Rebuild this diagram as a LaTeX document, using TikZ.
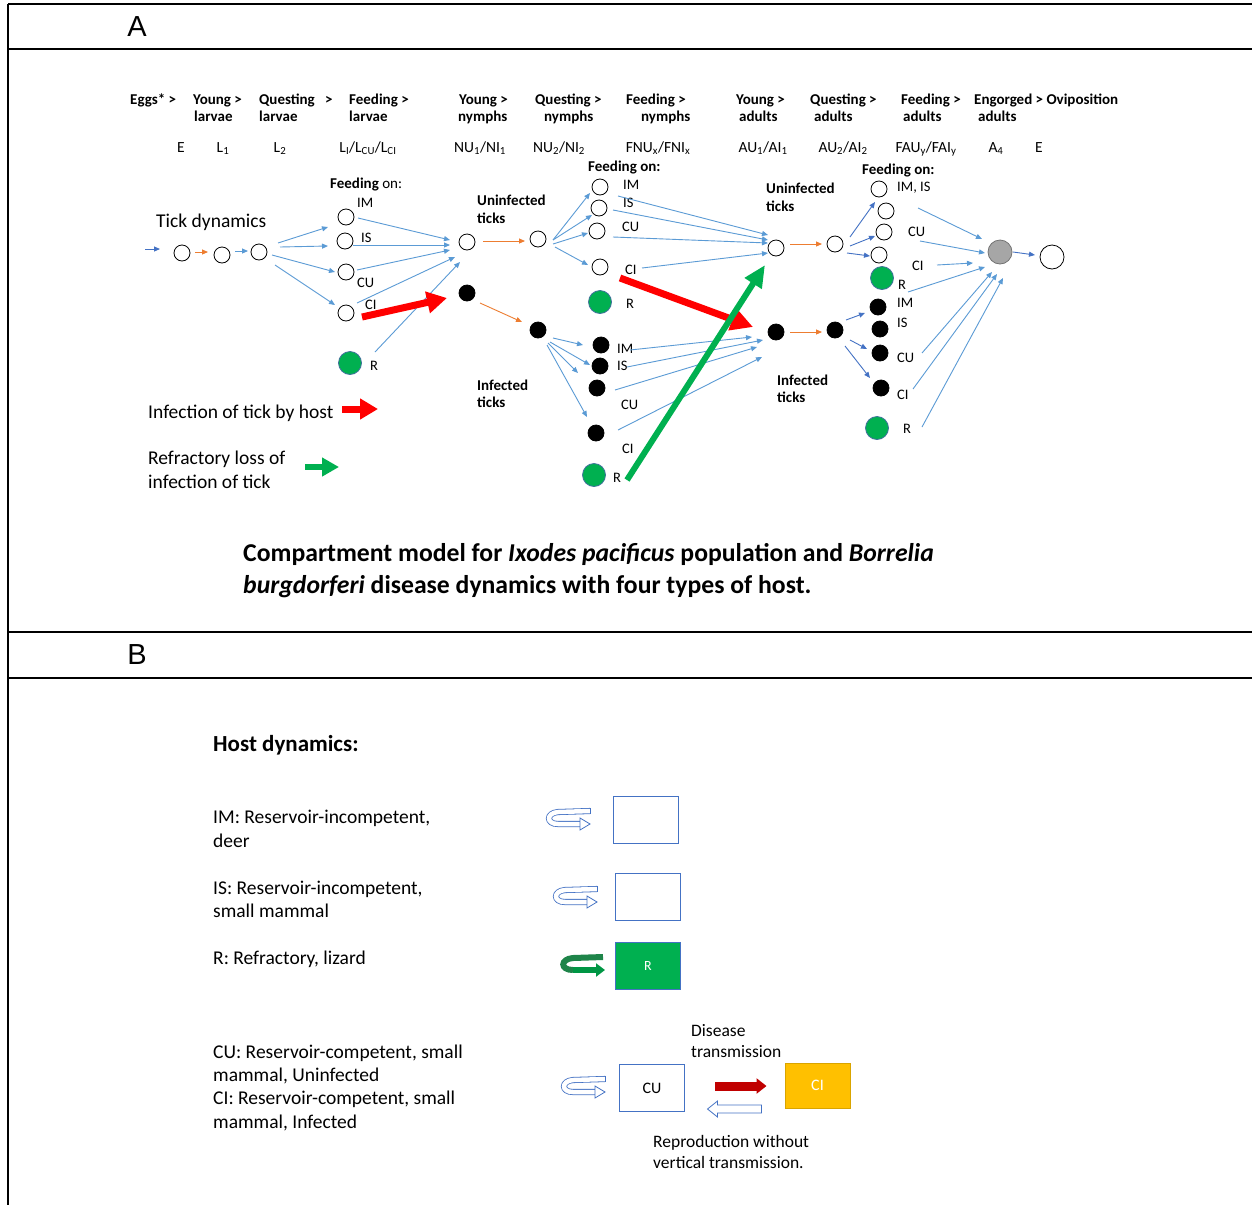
\documentclass[tikz,border=0pt]{standalone}
\usepackage{fontspec}
\setmainfont{Carlito}
\newfontfamily\letterfont{Liberation Sans}
\usetikzlibrary{arrows.meta,calc}
\definecolor{lblue}{HTML}{5B9BD5}
\definecolor{dblue}{HTML}{4472C4}
\definecolor{orng}{HTML}{ED7D31}
\definecolor{grn}{HTML}{00B050}
\definecolor{dgrn}{HTML}{1E8449}
\definecolor{dred}{HTML}{C00000}
\definecolor{gold}{HTML}{FFC000}
\definecolor{golddk}{HTML}{D9A400}
\definecolor{circb}{HTML}{41719C}
\definecolor{grayfill}{HTML}{A6A6A6}
\newcommand\myfs[1]{\fontsize{#1}{#1}\selectfont}
\begin{document}
\begin{tikzpicture}[x=1pt,y=-1pt,
 wc/.style={circle,draw=black,line width=0.8pt,fill=white,minimum size=16pt,inner sep=0pt},
 bc/.style={wc,fill=black},
 gc/.style={circle,draw=circb,line width=0.8pt,fill=grn,minimum size=23pt,inner sep=0pt},
 grc/.style={circle,draw=black!55,line width=0.8pt,fill=grayfill,minimum size=24pt,inner sep=0pt},
 bigwc/.style={wc,minimum size=24pt},
 la/.style={draw=lblue,line width=0.9pt,-{Triangle[length=6pt,width=5pt]}},
 da/.style={la,draw=dblue},
 oa/.style={la,draw=orng},
 tb/.style={inner sep=0pt,anchor=west,text height=1.0em,text depth=0.1em},
 hdr/.style={tb,font=\myfs{15}\bfseries},
 sym/.style={inner sep=0pt,text height=1.0em,text depth=0.1em,font=\myfs{15.5}},
 lab/.style={tb,font=\myfs{14.5}},
 blab/.style={tb,font=\myfs{15}\bfseries},
 txt/.style={tb,font=\myfs{19.5},yshift=-3pt},
 btxt/.style={tb,font=\myfs{17.5},yshift=-2pt},
 captxt/.style={tb,font=\myfs{25.7}\bfseries,yshift=-4pt},
 bigred/.style={draw=red,line width=7pt,-{Triangle[length=20pt,width=21pt]}},
 biggreen/.style={draw=grn,line width=6pt,-{Triangle[length=22pt,width=19pt]}},
 frameline/.style={line width=2pt,black},
 hbox/.style={draw=dblue,line width=1pt,inner sep=0pt,minimum width=65pt,minimum height=47pt},
 uturn/.pic={
   \draw[dblue,line width=0.8pt,double=white,double distance=4.5pt] (0,-13) -- (-32,-12) .. controls (-44,-11) and (-44,0) .. (-32,0) -- (-9,0);
   \draw[dblue,line width=0.8pt] (0,-16.2) -- (0,-9.8);
   \draw[dblue,line width=0.8pt,fill=white,line join=miter] (-10,-6) -- (0,0) -- (-10,6) -- cycle;
 },
 gturn/.pic={
   \draw[draw=dgrn,line width=6pt] (-2,-13) -- (-32,-12) .. controls (-45,-11) and (-45,0) .. (-32,0);
   \draw[draw=grn!85!black,line width=6pt,-{Triangle[length=9pt,width=13pt]}] (-32.5,0) -- (0,0);
 }
]
\useasboundingbox (0,0) rectangle (1252,1205);
\fill[white] (0,0) rectangle (1252,1205);
% frame
\draw[frameline] (8,4) -- (8,1205);
\draw[frameline] (8,4) -- (1252,4);
\draw[frameline] (8,49) -- (1252,49);
\draw[frameline] (8,632) -- (1252,632);
\draw[frameline] (8,678) -- (1252,678);
\node[font=\letterfont\myfs{29},inner sep=0pt] (letA) at (137,27) {A};
\node[font=\letterfont\myfs{29},inner sep=0pt] (letB) at (137,655) {B};

% header row 1
\node[hdr] (h1) at (130,100) {Eggs* >};
\node[hdr] (h2) at (193,100) {Young >};
\node[hdr] (h3) at (259,100) {Questing};
\node[hdr] (h3b) at (325,100) {>};
\node[hdr] (h4) at (349,100) {Feeding >};
\node[hdr] (h5) at (459,100) {Young >};
\node[hdr] (h6) at (535,100) {Questing >};
\node[hdr] (h7) at (626,100) {Feeding >};
\node[hdr] (h8) at (736,100) {Young >};
\node[hdr] (h9) at (810,100) {Questing >};
\node[hdr] (h10) at (901,100) {Feeding >};
\node[hdr] (h11) at (974,100) {Engorged > Oviposition};
% header row 2
\node[hdr] (g2) at (194,117) {larvae};
\node[hdr] (g3) at (259,117) {larvae};
\node[hdr] (g4) at (349,117) {larvae};
\node[hdr] (g5) at (458,117) {nymphs};
\node[hdr] (g6) at (544,117) {nymphs};
\node[hdr] (g7) at (641,117) {nymphs};
\node[hdr] (g8) at (739,117) {adults};
\node[hdr] (g9) at (814,117) {adults};
\node[hdr] (g10) at (903,117) {adults};
\node[hdr] (g11) at (978,117) {adults};
% symbols row
\node[sym] (s1) at (181,148) {E};
\node[sym] (s2) at (223,148) {L\textsubscript{1}};
\node[sym] (s3) at (280,148) {L\textsubscript{2}};
\node[sym] (s4) at (368,148) {L\textsubscript{I}/L\textsubscript{CU}/L\textsubscript{CI}};
\node[sym] (s5) at (480,148) {NU\textsubscript{1}/NI\textsubscript{1}};
\node[sym] (s6) at (559,148) {NU\textsubscript{2}/NI\textsubscript{2}};
\node[sym] (s7) at (658,148) {FNU\textsubscript{x}/FNI\textsubscript{x}};
\node[sym] (s8) at (763,148) {AU\textsubscript{1}/AI\textsubscript{1}};
\node[sym] (s9) at (843,148) {AU\textsubscript{2}/AI\textsubscript{2}};
\node[sym] (s10) at (926,148) {FAU\textsubscript{y}/FAI\textsubscript{y}};
\node[sym] (s11) at (996,148) {A\textsubscript{4}};
\node[sym] (s12) at (1039,148) {E};

% text labels
\node[txt] (tickdyn) at (156,220) {Tick dynamics};
\node[blab] (fo1) at (330,184) {Feeding {\mdseries on:}};
\node[blab] (fo2) at (588,167) {Feeding on:};
\node[blab] (fo3) at (862,170) {Feeding on:};
\node[blab] (un1a) at (477,201) {Uninfected};
\node[blab] (un1b) at (477,219) {ticks};
\node[blab] (in1a) at (477,386) {Infected};
\node[blab] (in1b) at (477,403) {ticks};
\node[blab] (un2a) at (766,189) {Uninfected};
\node[blab] (un2b) at (766,207) {ticks};
\node[blab] (in2a) at (777,381) {Infected};
\node[blab] (in2b) at (777,398) {ticks};

% circles: larvae
\node[wc] (c1) at (182,253) {};
\node[wc] (c2) at (222,255) {};
\node[wc] (c3) at (259,252) {};
\node[wc] (lIM) at (346,217) {};
\node[wc] (lIS) at (345,241) {};
\node[wc] (lCU) at (346,272) {};
\node[wc] (lCI) at (346,313) {};
\node[gc] (lR) at (350,363) {};
\node[lab] (tlIM) at (357,203) {IM};
\node[lab] (tlIS) at (361,238) {IS};
\node[lab] (tlCU) at (357,283) {CU};
\node[lab] (tlCI) at (365,305) {CI};
\node[lab] (tlR) at (370,366) {R};
% nymphs
\node[wc] (U1) at (467,242) {};
\node[bc] (I1) at (467,293) {};
\node[wc] (U2) at (538,239) {};
\node[bc] (I2) at (538,330) {};
\node[wc] (nIM) at (600,187) {};
\node[wc] (nIS) at (599,208) {};
\node[wc] (nCU) at (597,231) {};
\node[wc] (nCI) at (600,267) {};
\node[gc] (nR) at (600,302) {};
\node[bc] (kIM) at (601,345) {};
\node[bc] (kIS) at (600,366) {};
\node[bc] (kCU) at (597,388) {};
\node[bc] (kCI) at (596,433) {};
\node[gc] (kR) at (594,475) {};
\node[lab] (tnIM) at (623,185) {IM};
\node[lab] (tnIS) at (623,203) {IS};
\node[lab] (tnCU) at (622,227) {CU};
\node[lab] (tnCI) at (625,270) {CI};
\node[lab] (tnR) at (626,304) {R};
\node[lab] (tkIM) at (617,349) {IM};
\node[lab] (tkIS) at (617,366) {IS};
\node[lab] (tkCU) at (621,405) {CU};
\node[lab] (tkCI) at (622,449) {CI};
\node[lab] (tkR) at (613,478) {R};
% adults
\node[wc] (AU1) at (776,248) {};
\node[bc] (AI1) at (776,332) {};
\node[wc] (AU2) at (835,244) {};
\node[bc] (AI2) at (835,330) {};
\node[wc] (aIM) at (879,189) {};
\node[wc] (aIS) at (886,211) {};
\node[wc] (aCU) at (884,232) {};
\node[wc] (aCI) at (879,255) {};
\node[gc] (aR) at (882,278) {};
\node[bc] (bIM) at (878,307) {};
\node[bc] (bIS) at (880,329) {};
\node[bc] (bCU) at (880,353) {};
\node[bc] (bCI) at (881,388) {};
\node[gc] (bR) at (877,428) {};
\node[lab] (taIM) at (897,187) {IM, IS};
\node[lab] (taCU) at (908,232) {CU};
\node[lab] (taCI) at (912,266) {CI};
\node[lab] (taR) at (898,285) {R};
\node[lab] (tbIM) at (897,303) {IM};
\node[lab] (tbIS) at (897,323) {IS};
\node[lab] (tbCU) at (897,358) {CU};
\node[lab] (tbCI) at (897,395) {CI};
\node[lab] (tbR) at (903,429) {R};
\node[grc] (A4) at (1000,252) {};
\node[bigwc] (E2) at (1052,257) {};

% connectors larvae
\coordinate (in0) at (145,249);
\draw[da] (in0) -- ($(c1)+(-22,-4)$);
\draw[oa] ($(c1)+(13,-1)$) -- ($(c2)+(-14,-3)$);
\draw[la] ($(c2)+(13,-4)$) -- ($(c3)+(-11,-1)$);
\draw[la] ($(c3)+(19,-9)$) -- ($(lIM)+(-18,10)$);
\draw[la] ($(c3)+(21,-5)$) -- ($(lIS)+(-17,5)$);
\draw[la] ($(c3)+(13,3)$) -- ($(lCU)+(-11,0)$);
\draw[la] ($(c3)+(16,13)$) -- ($(lCI)+(-11,-8)$);
\draw[la] ($(lIM)+(12,1)$) -- ($(U1)+(-17,-2)$);
\draw[la] ($(lIS)+(8,4)$) -- ($(U1)+(-17,3)$);
\draw[la] ($(lCU)+(11,-2)$) -- ($(U1)+(-17,8)$);
\draw[la] ($(lCI)+(11,-10)$) -- ($(U1)+(-12,15)$);
\draw[la] ($(lR)+(25,-11)$) -- ($(U1)+(-7,20)$);
% nymphs
\draw[oa] ($(U1)+(16,-1)$) -- ($(U2)+(-13,2)$);
\draw[oa] ($(I1)+(13,10)$) -- ($(I2)+(-16,-8)$);
\draw[la] ($(U2)+(15,1)$) -- ($(nIM)+(-10,6)$);
\draw[la] ($(U2)+(15,1)$) -- ($(nIS)+(-7,7)$);
\draw[la] ($(U2)+(15,5)$) -- ($(nCU)+(-9,2)$);
\draw[la] ($(U2)+(17,8)$) -- ($(nCI)+(-12,-2)$);
\draw[la] ($(nIM)+(18,9)$) -- ($(AU1)+(-8,-13)$);
\draw[la] ($(nIS)+(14,2)$) -- ($(AU1)+(-8,-8)$);
\draw[la] ($(nCU)+(16,6)$) -- ($(AU1)+(-8,-5)$);
\draw[la] ($(nCI)+(42,1)$) -- ($(AU1)+(-8,5)$);
\draw[la] ($(I2)+(15,8)$) -- ($(kIM)+(-18,0)$);
\draw[la] ($(I2)+(12,12)$) -- ($(kIS)+(-10,-1)$);
\draw[la] ($(I2)+(10,13)$) -- ($(kCU)+(-19,-15)$);
\draw[la] ($(I2)+(9,15)$) -- ($(kCI)+(-9,-16)$);
\draw[la] ($(kIM)+(29,5)$) -- ($(AI1)+(-24,5)$);
\draw[la] ($(kIS)+(27,1)$) -- ($(AI1)+(-13,8)$);
\draw[la] ($(kCU)+(18,2)$) -- ($(AI1)+(-19,15)$);
\draw[la] ($(kCI)+(22,-3)$) -- ($(AI1)+(-14,25)$);
% adults
\draw[oa] ($(AU1)+(14,-4)$) -- ($(AU2)+(-13,0)$);
\draw[oa] ($(AI1)+(14,0)$) -- ($(AI2)+(-13,2)$);
\draw[da] ($(AU2)+(15,-7)$) -- ($(aIM)+(-4,13)$);
\draw[da] ($(AU2)+(15,2)$) -- ($(aCU)+(-9,4)$);
\draw[da] ($(AU2)+(12,9)$) -- ($(aCI)+(-9,1)$);
\draw[da] ($(AI2)+(11,-10)$) -- ($(bIM)+(-13,6)$);
\draw[da] ($(AI2)+(15,10)$) -- ($(bCU)+(-13,-4)$);
\draw[da] ($(AI2)+(10,16)$) -- ($(bCI)+(-11,-10)$);
\draw[la] ($(aIS)+(32,-3)$) -- ($(A4)+(-18,-13)$);
\draw[la] ($(aCU)+(36,9)$) -- ($(A4)+(-15,1)$);
\draw[la] ($(aCI)+(58,10)$) -- ($(A4)+(-27,11)$);
\draw[la] ($(aR)+(26,14)$) -- ($(A4)+(-15,15)$);
\draw[la] ($(bCU)+(42,0)$) -- ($(A4)+(-8,20)$);
\draw[la] ($(bCI)+(32,1)$) -- ($(A4)+(-3,22)$);
\draw[la] ($(bR)+(45,-1)$) -- ($(A4)+(3,26)$);
\draw[da] ($(A4)+(13,0)$) -- ($(E2)+(-17,-2)$);
% big arrows
\draw[bigred] ($(lCI)+(16,4)$) -- ($(I1)+(-20,5)$);
\draw[bigred,-{Triangle[length=22pt,width=22pt]}] ($(nCI)+(20,11)$) -- ($(AI1)+(-23,-5)$);
\draw[biggreen] ($(kR)+(33,5)$) -- ($(AU1)+(-11,17)$);

% legend
\node[txt] (leg1) at (148,411) {Infection of tick by host};
\node[txt] (leg2a) at (148,457) {Refractory loss of};
\node[txt] (leg2b) at (148,481) {infection of tick};
\coordinate (lr1) at (342,409);
\coordinate (lr2) at (378,409);
\coordinate (lg1) at (305,467);
\coordinate (lg2) at (339,467);
\draw[draw=red,line width=7pt,-{Triangle[length=18pt,width=20pt]}] (lr1) -- (lr2);
\draw[draw=grn,line width=6pt,-{Triangle[length=17pt,width=18pt]}] (lg1) -- (lg2);

% caption
\node[captxt] (cap1) at (243,553) {Compartment model for \textit{Ixodes pacificus} population and \textit{Borrelia}};
\node[captxt] (cap2) at (243,585) {\textit{burgdorferi} disease dynamics with four types of host.};

% part B
\node[tb,font=\myfs{23}\bfseries,yshift=-4pt] (hostdyn) at (213,743) {Host dynamics:};
\node[txt] (bt1) at (213,816) {IM: Reservoir-incompetent,};
\node[txt] (bt2) at (213,840) {deer};
\node[txt] (bt3) at (213,887) {IS: Reservoir-incompetent,};
\node[txt] (bt4) at (213,910) {small mammal};
\node[txt] (bt5) at (213,957) {R: Refractory, lizard};
\node[txt] (bt6) at (213,1051) {CU: Reservoir-competent, small};
\node[txt] (bt7) at (213,1074) {mammal, Uninfected};
\node[txt] (bt8) at (213,1097) {CI: Reservoir-competent, small};
\node[txt] (bt9) at (213,1121) {mammal, Infected};

\node[hbox] (boxIM) at (645.5,819.5) {};
\node[hbox] (boxIS) at (648,896.5) {};
\node[hbox,fill=grn,text=white,font=\myfs{14}] (boxR) at (648,966) {R};
\node[hbox,font=\myfs{16}] (boxCU) at (652,1088) {CU};
\node[hbox,draw=golddk,fill=gold,text=white,minimum height=45pt,font=\myfs{16}] (boxCI) at (817.5,1085.5) {CI};

\pic at (590,824) {uturn};
\pic at (597,902) {uturn};
\pic at (605,1092) {uturn};
\pic at (605,970) {gturn};

\draw[draw=dred,line width=9pt,-{Triangle[length=10pt,width=15pt]}] ($(boxCU.east)+(30,-2)$) -- ($(boxCI.west)+(-18,0.5)$);
\coordinate (hollowStart) at ($(boxCI.south west)+(-23,0.5)$);
\draw[dblue,line width=0.8pt,fill=white,line join=miter] (hollowStart) ++(0,-4) -- ++(-44,0) -- ++(0,-4) -- ++(-10,8) -- ++(10,8) -- ++(0,-4) -- ++(44,0) -- cycle;

\node[btxt] (dis1) at (691,1030) {Disease};
\node[btxt] (dis2) at (691,1051) {transmission};
\node[btxt] (rep1) at (653,1141) {Reproduction without};
\node[btxt] (rep2) at (653,1162) {vertical transmission.};
\end{tikzpicture}
\end{document}
